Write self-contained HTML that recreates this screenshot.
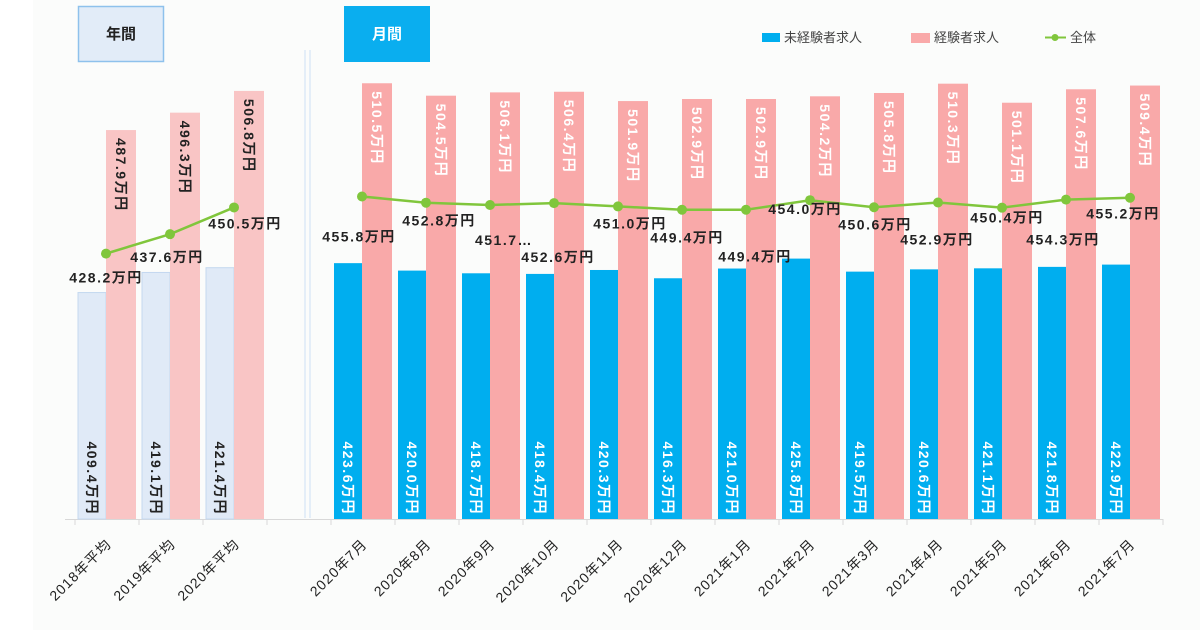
<!DOCTYPE html>
<html><head><meta charset="utf-8">
<style>
html,body{margin:0;padding:0;background:#fff;}
svg{display:block;font-family:"Liberation Sans","Noto Sans CJK JP",sans-serif;}
</style></head>
<body>
<svg id="chart" width="1200" height="630" viewBox="0 0 1200 630" xmlns="http://www.w3.org/2000/svg">
<rect x="0" y="0" width="1200" height="630" fill="#fff"/>
<rect x="33" y="0" width="1167" height="630" fill="#fbfcfb"/>
<g>
<rect x="78.5" y="6.5" width="85" height="55" fill="#e2ecf8" stroke="#8ec1ec" stroke-width="1.5"/>
<text x="121" y="39" text-anchor="middle" font-size="15" font-weight="bold" fill="#222">年間</text>
</g>
<g>
<rect x="344" y="6" width="86" height="56" fill="#0aaeef"/>
<text x="387" y="39" text-anchor="middle" font-size="15" font-weight="bold" fill="#fff">月間</text>
</g>
<line x1="305" y1="50" x2="305" y2="518" stroke="#dceaf7" stroke-width="1.5"/>
<line x1="310" y1="50" x2="310" y2="518" stroke="#dceaf7" stroke-width="1.5"/>
<g>
<rect x="762" y="33" width="18" height="9" fill="#00aeef"/>
<text x="784" y="42" font-size="13" fill="#444">未経験者求人</text>
<rect x="911" y="33" width="19" height="10" fill="#f9a9a9"/>
<text x="934" y="42" font-size="13" fill="#444">経験者求人</text>
<line x1="1045" y1="37.5" x2="1066" y2="37.5" stroke="#80c63c" stroke-width="2"/>
<circle cx="1055" cy="37.5" r="3.5" fill="#80c63c"/>
<text x="1070" y="42" font-size="13" fill="#444">全体</text>
</g>
<g id="plot"></g>
</svg>
<script>
const categories = ["2018年平均","2019年平均","2020年平均","","2020年7月","2020年8月","2020年9月","2020年10月","2020年11月","2020年12月","2021年1月","2021年2月","2021年3月","2021年4月","2021年5月","2021年6月","2021年7月"];
const inexperienced = [409.4,419.1,421.4,null,423.6,420.0,418.7,418.4,420.3,416.3,421.0,425.8,419.5,420.6,421.1,421.8,422.9];
const experienced = [487.9,496.3,506.8,null,510.5,504.5,506.1,506.4,501.9,502.9,502.9,504.2,505.8,510.3,501.1,507.6,509.4];
const total = [428.2,437.6,450.5,null,455.8,452.8,451.7,452.6,451.0,449.4,449.4,454.0,450.6,452.9,450.4,454.3,455.2];
const totalLabels = ["428.2万円","437.6万円","450.5万円","","455.8万円","452.8万円","451.7…","452.6万円","451.0万円","449.4万円","449.4万円","454.0万円","450.6万円","452.9万円","450.4万円","454.3万円","455.2万円"];

const NS="http://www.w3.org/2000/svg";
const plot=document.getElementById('plot');
const X0=75, SLOT=64, BASE=519, YMIN=300, PXU=2.07;
const y=v=>BASE-(v-YMIN)*PXU;
const xs=i=>X0+i*SLOT;
function mk(tag,attrs,parent){const e=document.createElementNS(NS,tag);for(const k in attrs)e.setAttribute(k,attrs[k]);(parent||plot).appendChild(e);return e;}

const ax=mk('line',{x1:X0-10,y1:BASE+0.5,x2:xs(categories.length),y2:BASE+0.5,stroke:'#d8d8d8','stroke-width':1});


for(let i=0;i<=categories.length;i++){mk('line',{x1:xs(i),y1:BASE,x2:xs(i),y2:BASE+6,stroke:'#d8d8d8'});}

categories.forEach((c,i)=>{
  const cx=xs(i)+SLOT/2;
  if(c){
    const t=mk('text',{x:0,y:0,'font-size':14,'letter-spacing':1,'text-anchor':'end',fill:'#222',transform:`translate(${cx+5},${BASE+26}) rotate(-45)`});
    t.textContent=c;
    
    
  }
  if(inexperienced[i]==null) return;
  const annual=i<3;
  const bx=xs(i)+3, bw=SLOT/2-4;
  const b=mk('rect',{x:bx,y:y(inexperienced[i]),width:bw,height:BASE-y(inexperienced[i]),fill:annual?'#e0eaf7':'#00aeef',stroke:annual?'#c4d8ef':'none'});
  
  
  const bl=mk('text',{x:0,y:0,'font-size':14,'letter-spacing':1.5,'font-weight':'bold',fill:annual?'#222':'#fff','text-anchor':'end',transform:`translate(${bx+bw/2-5},${BASE-4}) rotate(90)`});
  bl.textContent=inexperienced[i].toFixed(1)+'万円';
  
  
  const px=xs(i)+SLOT/2-1, pw=SLOT/2-2;
  const p=mk('rect',{x:px,y:y(experienced[i]),width:pw,height:BASE-y(experienced[i]),fill:annual?'#f9c5c5':'#f9a9a9'});
  
  
  const pl=mk('text',{x:0,y:0,'font-size':14,'letter-spacing':1.5,'font-weight':'bold',fill:annual?'#222':'#fff','text-anchor':'start',transform:`translate(${px+pw/2-5},${y(experienced[i])+8}) rotate(90)`});
  pl.textContent=experienced[i].toFixed(1)+'万円';
  
  
});

function seg(from,to){
  let d='';
  for(let i=from;i<=to;i++){d+=(i===from?'M':'L')+(xs(i)+SLOT/2-1)+' '+y(total[i]);}
  const l=mk('path',{d:d,fill:'none',stroke:'#80c63c','stroke-width':2.5});
  
  
}
seg(0,2); seg(4,16);
const lblDx=[0,-3,11,0,-3,13,14,4,12,5,9,-5,1,-1,5,-3,-7];
const lblDy=[29,28,21,0,45,23,40,59,22,33,52,14,22,42,15,45,21];
total.forEach((v,i)=>{
  if(v==null) return;
  const cx=xs(i)+SLOT/2-1, cy=y(v);
  const c=mk('circle',{cx:cx,cy:cy,r:5,fill:'#80c63c'});
  
  
  const t=mk('text',{x:cx+lblDx[i],y:cy+lblDy[i],'font-size':14,'letter-spacing':1.5,'font-weight':'bold',fill:'#222','text-anchor':'middle'});
  t.textContent=totalLabels[i];
  
  
});
</script>
</body></html>
